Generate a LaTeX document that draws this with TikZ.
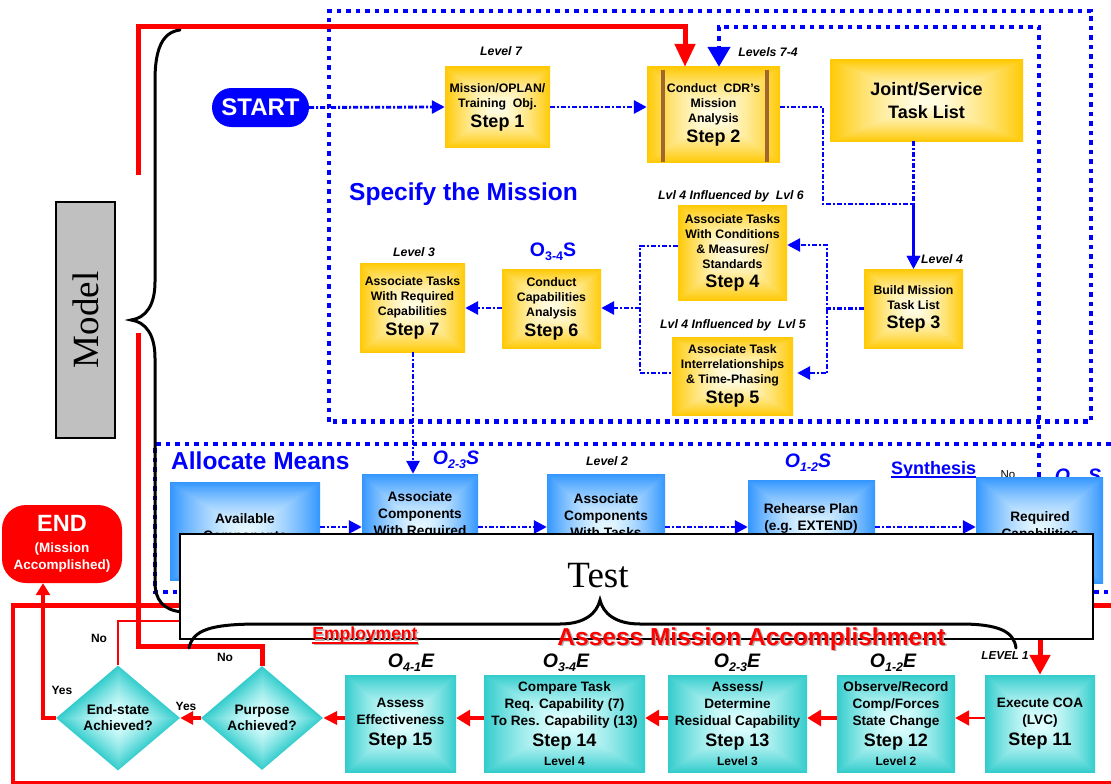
\documentclass[tikz,border=0pt]{standalone}
\usepackage{fontspec}
\setmainfont{Liberation Sans}
\newfontfamily\serifface{Liberation Serif}
\usetikzlibrary{arrows.meta,shapes.geometric}

\definecolor{pblue}{RGB}{0,0,255}
\definecolor{pred}{RGB}{255,0,0}
\definecolor{barbrown}{RGB}{160,102,45}
\definecolor{modelgray}{RGB}{192,192,192}

\newcommand\fsz[2]{\fontsize{#1}{#2}\selectfont}
\newcommand\stp[1]{\\[4pt]{\fsz{18}{20}Step #1}}
\newcommand\lev[1]{\\[2pt]{\fsz{12}{14}Level #1}}
\newcommand\osub[3]{#1\raisebox{-0.22em}{\fsz{12.5}{13}#2}#3}

% rectangular (box) and rhombic (diamond) gradients: light centre, saturated rim
\pgfdeclarefunctionalshading{goldfill}{\pgfpoint{0bp}{0bp}}{\pgfpoint{100bp}{100bp}}{}{
 50 sub abs exch 50 sub abs 2 copy lt {exch} if pop 25 div dup 1 gt {pop 1} if dup sqrt mul
 dup dup 0 mul 1 add 3 1 roll -0.2 mul 0.99 add exch -0.88 mul 0.9 add}
\pgfdeclarefunctionalshading{bluefill}{\pgfpoint{0bp}{0bp}}{\pgfpoint{100bp}{100bp}}{}{
 50 sub abs exch 50 sub abs 2 copy lt {exch} if pop 25 div dup 1 gt {pop 1} if dup sqrt mul
 dup dup -0.7 mul 0.9 add 3 1 roll -0.38 mul 0.97 add exch 0 mul 1 add}
\pgfdeclarefunctionalshading{tealfill}{\pgfpoint{0bp}{0bp}}{\pgfpoint{100bp}{100bp}}{}{
 50 sub abs exch 50 sub abs 2 copy lt {exch} if pop 25 div dup 1 gt {pop 1} if dup sqrt mul
 dup dup -0.68 mul 0.88 add 3 1 roll -0.2 mul 1 add exch -0.2 mul 1 add}
\pgfdeclarefunctionalshading{tealdiam}{\pgfpoint{0bp}{0bp}}{\pgfpoint{100bp}{100bp}}{}{
 50 sub abs exch 50 sub abs add 25 div dup 1 gt {pop 1} if dup sqrt mul
 dup dup -0.68 mul 0.88 add 3 1 roll -0.2 mul 1 add exch -0.2 mul 1 add}

\begin{document}
\begin{tikzpicture}[x=1pt,y=-1pt,
  every node/.style={inner sep=0pt},
  goldbox/.style={shade, shading=goldfill, align=center, font=\bfseries\fsz{12.3}{15}},
  bluebox/.style={shade, shading=bluefill},
  btext/.style={align=center, font=\bfseries\fsz{13.7}{17}},
  tealbox/.style={shade, shading=tealfill, align=center, font=\bfseries\fsz{13.6}{17}},
  tealdiamond/.style={diamond, shade, shading=tealdiam, aspect=1.17, align=center, font=\bfseries\fsz{13.7}{16}},
  lvl/.style={font=\bfseries\itshape\fsz{12.3}{14}},
  olab/.style={font=\bfseries\itshape\fsz{19.5}{21}},
  heading/.style={pblue, font=\bfseries\fsz{24.5}{28}, anchor=base west},
  yn/.style={font=\bfseries\fsz{12}{14}},
  flowline/.style={pblue, line width=2.8pt, dash pattern=on 5pt off 2pt on 2pt off 2pt},
  flow/.style={flowline, -{Triangle[length=13pt,width=13pt]}},
  bigdots/.style={pblue, line width=4.5pt, dash pattern=on 4.5pt off 5pt},
  redflow/.style={pred, line width=4pt, -{Triangle[length=14pt,width=16pt]}},
  bracepen/.style={black, line width=3pt, line cap=round},
  brownbar/.style={barbrown, line width=4pt},
]
\clip (0,0) rectangle (1111,784);
\fill[white] (0,0) rectangle (1111,784);

% helper coordinates for routing
\coordinate (c685) at (685,0);
\coordinate (c719) at (719,0);
\coordinate (c1039) at (1039,0);
\coordinate (c413) at (413,0);
\coordinate (c43) at (43,0);
\coordinate (r107) at (0,107);
\coordinate (r204) at (0,204);
\coordinate (r245) at (0,245);
\coordinate (r246) at (0,246);
\coordinate (r308) at (0,308);
\coordinate (r373) at (0,373);
\coordinate (r527) at (0,527);
\coordinate (r621) at (0,621);
\coordinate (r646) at (0,646);
\coordinate (r718) at (0,718);
\coordinate (gapbot) at (138,333);
\coordinate (gaptop) at (138,175);
\coordinate (noend) at (420,621);
\coordinate (loopR) at (1120,605);
\coordinate (loopL) at (13,605);
\coordinate (loopB) at (13,782.5);
\coordinate (loopBR) at (1120,782.5);

% phase frames
\draw[bigdots] (329,421.5) -- (329,11) -- (1091,11) -- (1091,421.5) -- cycle;
\draw[bigdots] (1120,444) -- (155,444) -- (155,592) -- (1120,592);

% outer feedback loop
\draw[pred, line width=5pt] (loopR) -- ([xshift=-2pt]loopL);
\draw[pred, line width=4pt] ([yshift=2pt]loopL) -- (loopB);
\draw[pred, line width=2.5pt] ([xshift=-2pt]loopB) -- (loopBR);

% Specify the Mission
\node[heading] (spec) at (349,200) {Specify the Mission};
\node[fill=pblue, text=white, rounded corners=19.5pt, minimum width=97, minimum height=39,
      font=\bfseries\fsz{24}{26}] (start) at (260.5,107.5) {START};

\node[lvl] (l7) at (501,51) {Level 7};
\node[lvl] (l74) at (768,52) {Levels 7-4};
\node[lvl] (l4) at (942,259) {Level 4};
\node[lvl] (l46) at (731,196) {Lvl 4 Influenced by\ \ Lvl 6};
\node[lvl] (l45) at (733,325) {Lvl 4 Influenced by\ \ Lvl 5};
\node[lvl] (l3) at (414,252) {Level 3};
\node[pblue, font=\bfseries\fsz{19.5}{21}] (o34s) at (553,252) {\osub{O}{3-4}{S}};

\node[goldbox, minimum width=105, minimum height=80] (s1) at (497.5,107)
  {Mission/OPLAN/\\Training\ \ Obj.\stp{1}};
\node[goldbox, minimum width=133, minimum height=95] (s2) at (713.5,114.5)
  {Conduct\ \ CDR’s\\Mission\\Analysis\stp{2}};
\draw[brownbar] (663,70) -- (663,162);
\draw[brownbar] (767,70) -- (767,162);
\node[goldbox, minimum width=193, minimum height=81, font=\bfseries\fsz{18}{23}] (jt) at (926.5,100.5)
  {Joint/Service\\Task List};
\node[goldbox, minimum width=99, minimum height=79] (s3) at (913.5,308.5)
  {Build Mission\\Task List\stp{3}};
\node[goldbox, minimum width=109, minimum height=95] (s4) at (732.5,252.5)
  {Associate Tasks\\With Conditions\\\& Measures/\\Standards\stp{4}};
\node[goldbox, minimum width=121, minimum height=78] (s5) at (732.5,376)
  {Associate Task\\Interrelationships\\\& Time-Phasing\stp{5}};
\node[goldbox, minimum width=99, minimum height=79] (s6) at (551.5,308.5)
  {Conduct\\Capabilities\\Analysis\stp{6}};
\node[goldbox, minimum width=105, minimum height=89] (s7) at (412.5,307.5)
  {Associate Tasks\\With Required\\Capabilities\stp{7}};

\draw[flow] (start.east) -- (s1.west);
\draw[flow] (s1.east) -- (s1.east -| s2.west);
\draw[flow] (s2.east |- r107) -- (823,107) -- (823,204) -- (s3.north |- r204) -- (s3.north);
\draw[flow] (s3.north |- jt.south) -- (s3.north);
\coordinate (j3) at (827,308.5);
\draw[flow] (s3.west) -- (j3) -- (827,245) -- (s4.east |- r245);
\draw[flow, shorten >=4pt] (j3) -- (827,373) -- (s5.east |- r373);
\draw[flowline] (s4.west |- r246) -- (640,246) -- (640,373) -- (s5.west |- r373);
\draw[flow] (640,308) -- (s6.east |- r308);
\draw[flow] (s6.west |- r308) -- (s7.east |- r308);

% Allocate Means
\node[heading] (alloc) at (171,469.5) {Allocate Means};
\node[pblue, font=\bfseries\fsz{18}{20}, anchor=base west] (syn) at (891,474) {Synthesis};
\draw[pblue, line width=2pt] ([yshift=-3pt]syn.base west) -- ([yshift=-3pt]syn.base east);
\node[pblue, olab] (o23s) at (456,460) {\osub{O}{2-3}{S}};
\node[lvl] (lv2) at (607,461) {Level 2};
\node[pblue, olab] (o12s) at (808,463) {\osub{O}{1-2}{S}};
\node[pblue, olab] (o11s) at (1078,478) {\osub{O}{1-1}{S}};
\node[font=\fsz{11.5}{13}] (noreq) at (1008,475) {No};

\node[bluebox, minimum width=150, minimum height=98] (a1) at (245,531) {};
\node[bluebox, minimum width=116, minimum height=109] (a2) at (420,528.5) {};
\node[bluebox, minimum width=118, minimum height=109] (a3) at (606,528.5) {};
\node[bluebox, minimum width=127, minimum height=103] (a4) at (811.5,531.5) {};
\node[bluebox, minimum width=127, minimum height=106] (a5) at (1039.5,530) {};
\node[btext, anchor=north] (a1t) at (245,513) {Available\\Components};
\node[btext, anchor=north] (a2t) at (420,491) {Associate\\Components\\With Required};
\node[btext, anchor=north] (a3t) at (606,493) {Associate\\Components\\With Tasks};
\node[btext, anchor=north] (a4t) at (811,503) {Rehearse Plan\\(e.g. EXTEND)};
\node[btext, anchor=north] (a5t) at (1040,511) {Required\\Capabilities};

\draw[flow] (s7.south -| c413) -- (a2.north -| c413);
\draw[flow] (a1.east |- r527) -- (a2.west |- r527);
\draw[flow] (a2.east |- r527) -- (a3.west |- r527);
\draw[flow] (a3.east |- r527) -- (a4.west |- r527);
\draw[flow] (a4.east |- r527) -- (a5.west |- r527);

% "No" from Required Capabilities back to Step 2
\draw[bigdots, -{Triangle[length=20pt,width=22pt]}] (a5.north -| c1039) -- (1039,27) -- (719,27) -- (s2.north -| c719);

% Assess Mission Accomplishment
\node[black, olab] (o41e) at (411,663) {\osub{O}{4-1}{E}};
\node[black, olab] (o34e) at (566,663) {\osub{O}{3-4}{E}};
\node[black, olab] (o23e) at (737,663) {\osub{O}{2-3}{E}};
\node[black, olab] (o12e) at (893,663) {\osub{O}{1-2}{E}};

\node[tealbox, minimum width=110, minimum height=97] (s11) at (1040,723.5)
  {Execute COA\\(LVC)\stp{11}};
\node[tealbox, minimum width=118, minimum height=97] (s12) at (896,723.5)
  {Observe/Record\\Comp/Forces\\State Change\stp{12}\lev{2}};
\node[tealbox, minimum width=139, minimum height=97] (s13) at (737.5,723.5)
  {Assess/\\Determine\\Residual Capability\stp{13}\lev{3}};
\node[tealbox, minimum width=161, minimum height=97] (s14) at (564.5,723.5)
  {Compare Task\\Req. Capability (7)\\To Res. Capability (13)\stp{14}\lev{4}};
\node[tealbox, minimum width=111, minimum height=97] (s15) at (400.5,723.5)
  {Assess\\Effectiveness\stp{15}};
\node[tealdiamond, minimum width=122, minimum height=104] (pa) at (262,718) {Purpose\\Achieved?};
\node[tealdiamond, minimum width=124, minimum height=105] (es) at (118,718) {End-state\\Achieved?};

\node[yn] (yes1) at (186,706) {Yes};
\node[yn] (yes2) at (62,690) {Yes};
\node[yn] (no1) at (99,638) {No};
\node[yn] (no2) at (225,657) {No};

\draw[pred, line width=2pt, -{Triangle[length=14pt,width=15pt]}] (s11.west |- r718) -- (s12.east |- r718);
\draw[redflow] (s12.west |- r718) -- (s13.east |- r718);
\draw[redflow] (s13.west |- r718) -- (s14.east |- r718);
\draw[redflow] (s14.west |- r718) -- (s15.east |- r718);
\draw[redflow, -{Triangle[length=14pt,width=13pt]}] (s15.west |- r718) -- (pa.east);
\draw[redflow, -{Triangle[length=13pt,width=13pt]}] (pa.west) -- (es.east);

% END and decision branches
\node[fill=pred, text=white, rounded corners=24pt, minimum width=120, minimum height=78,
      align=center, font=\bfseries\fsz{13.5}{17}] (end) at (62,544)
  {{\fsz{23.5}{26}END}\\[3.5pt](Mission\\Accomplished)};
\draw[pred, line width=3.3pt, -{Triangle[length=12pt,width=14pt]}] (es.west) -- (43,718) -- (end.south -| c43);
\draw[pred, line width=2.2pt] (es.north) -- (es.north |- r621) -- (noend);
\draw[pred, line width=5pt] (pa.north) -- (pa.north |- r646) -- (138,646) -- (gapbot);
\draw[pred, line width=5pt, -{Triangle[length=23pt,width=20pt]}] (gaptop) -- (138,27) -- (685,27) -- (s2.north -| c685);
\draw[pred, line width=5pt, -{Triangle[length=20pt,width=20pt]}] (s11.north |- a5.south) -- (s11.north);

% Model
\node[draw=black, line width=1.5pt, fill=modelgray, rotate=90, minimum width=236, minimum height=59,
      font=\serifface\fsz{37}{40}] (model) at (85.5,320) {Model};
\draw[bracepen] (180,30) .. controls (162,32) and (155,50) .. (155,80) -- (155,282)
  .. controls (155,305) and (146,318) .. (131,320) .. controls (146,322) and (155,335) .. (155,358)
  -- (155,582) .. controls (155,600) and (163,610) .. (182,612);

% Test
\node[draw=black, line width=1.5pt, fill=white, minimum width=913, minimum height=105] (testbox) at (636.5,586.5) {};
\node[font=\serifface\fsz{37}{40}] (testtext) at (598,576) {Test};
\draw[bracepen] (189,648) .. controls (193,630) and (210,624) .. (260,624) -- (560,624)
  .. controls (585,624) and (597,613) .. (600,600) .. controls (603,613) and (615,624) .. (640,624)
  -- (960,624) .. controls (1000,624) and (1014,632) .. (1016,648);

\node[gray!60, font=\bfseries\fsz{17.5}{20}, anchor=base] (empsh) at (366.5,641) {Employment};
\draw[gray!60, line width=2pt] ([yshift=-3pt]empsh.base west) -- ([yshift=-3pt]empsh.base east);
\node[pred, font=\bfseries\fsz{17.5}{20}, anchor=base] (emp) at (365,639.5) {Employment};
\draw[pred, line width=2pt] ([yshift=-3pt]emp.base west) -- ([yshift=-3pt]emp.base east);
\node[gray!60, font=\bfseries\fsz{24.5}{28}, anchor=base] (amash) at (753,646.5) {Assess Mission Accomplishment};
\node[pred, font=\bfseries\fsz{24.5}{28}, anchor=base] (ama) at (751.5,645) {Assess Mission Accomplishment};
\node[font=\bfseries\itshape\fsz{11.6}{13}] (lv1) at (1005,656) {LEVEL 1};
\end{tikzpicture}
\end{document}
